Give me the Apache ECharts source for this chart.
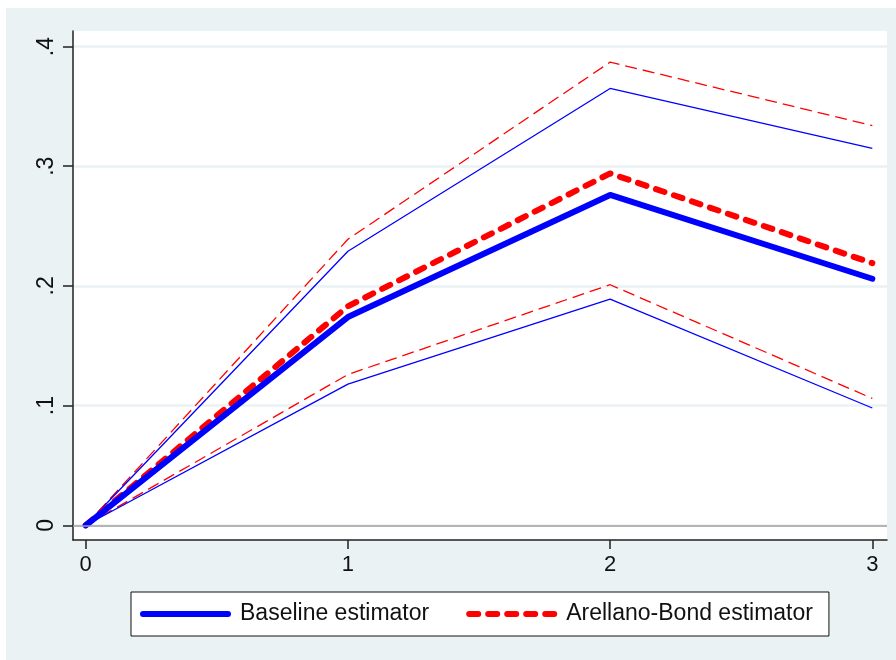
<!DOCTYPE html>
<html>
<head>
<meta charset="utf-8">
<script src="https://cdn.jsdelivr.net/npm/echarts@6/dist/echarts.min.js"></script>
<style>
  html, body { margin: 0; padding: 0; background: #fff; }
  #chart { width: 896px; height: 660px; }
</style>
</head>
<body>
<div id="chart"></div>
<script>
  // horizon (x axis)
  var horizons = [0, 1, 2, 3];
  var yTicks = [0, 0.1, 0.2, 0.3, 0.4];

  // baseline estimator with confidence band
  var baseline = [0, 0.174, 0.276, 0.206];
  var baselineUpper = [0, 0.229, 0.365, 0.315];
  var baselineLower = [0, 0.118, 0.189, 0.098];

  // Arellano-Bond estimator with confidence band
  var arellano = [0, 0.183, 0.294, 0.219];
  var arellanoUpper = [0, 0.239, 0.387, 0.334];
  var arellanoLower = [0, 0.126, 0.201, 0.106];

  function pairs(vals) {
      return horizons.map(function (h, i) { return [h, vals[i]]; });
  }

  var fontName = '"Liberation Sans", Arial, sans-serif';
  var blue = '#0000ff';
  var red = '#ff0000';

  var dom = document.getElementById('chart');
  var myChart = echarts.init(dom, null, { renderer: 'canvas' });

  var option = {
      animation: false,
      textStyle: { fontFamily: fontName },
      graphic: [
          {
              type: 'rect',
              shape: { x: 6, y: 8, width: 890, height: 652 },
              style: { fill: '#eaf2f3' },
              z: -10,
              silent: true
          }
      ],
      grid: {
          left: 73,
          right: 9,
          top: 31,
          bottom: 120,
          show: true,
          backgroundColor: '#ffffff',
          borderWidth: 0
      },
      legend: {
          left: 131,
          top: 592,
          padding: [9, 16, 9, 9],
          itemGap: 37,
          itemWidth: 85,
          itemHeight: 14,
          backgroundColor: '#ffffff',
          borderColor: '#111',
          borderWidth: 1,
          borderRadius: 0,
          itemStyle: { opacity: 0 },
          textStyle: {
              fontFamily: fontName,
              fontSize: 23,
              color: '#111',
              lineHeight: 26,
              padding: [0, 0, 0, 7]
          },
          data: [
              { name: 'Baseline estimator', itemStyle: { opacity: 0 }, lineStyle: { width: 6, cap: 'round' } },
              { name: 'Arellano-Bond estimator', itemStyle: { opacity: 0 }, lineStyle: { width: 6, cap: 'round', type: [9, 10] } }
          ]
      },
      xAxis: {
          type: 'value',
          min: -0.0485,
          max: 3.056,
          axisLine: { show: true, onZero: false, lineStyle: { color: '#222', width: 1.5 } },
          axisTick: { show: true, length: 9, customValues: horizons, lineStyle: { color: '#222', width: 1.5 } },
          axisLabel: {
              customValues: horizons,
              fontSize: 22,
              color: '#111',
              margin: 14,
              fontFamily: fontName
          },
          splitLine: { show: false }
      },
      yAxis: {
          type: 'value',
          min: -0.0123,
          max: 0.413,
          axisLine: { show: true, onZero: false, lineStyle: { color: '#222', width: 1.5 } },
          axisTick: { show: true, length: 10, customValues: yTicks, lineStyle: { color: '#222', width: 1.5 } },
          axisLabel: {
              customValues: yTicks,
              rotate: 90,
              fontSize: 23,
              color: '#111',
              margin: 15,
              fontFamily: fontName,
              formatter: function (v) {
                  if (v === 0) return '0';
                  return String(Math.round(v * 10) / 10).replace(/^0\./, '.');
              }
          },
          splitLine: { show: true, lineStyle: { color: '#eaf2f3', width: 2.5 } }
      },
      series: [
          {
              name: 'AB lower',
              type: 'line',
              data: pairs(arellanoLower),
              symbol: 'none',
              lineStyle: { color: red, width: 1.3, type: [12, 6] },
              markLine: {
                  silent: true,
                  symbol: 'none',
                  label: { show: false },
                  lineStyle: { color: '#a0a0a0', width: 1.5, type: 'solid' },
                  data: [{ yAxis: 0 }]
              }
          },
          {
              name: 'AB upper',
              type: 'line',
              data: pairs(arellanoUpper),
              symbol: 'none',
              lineStyle: { color: red, width: 1.3, type: [12, 6] }
          },
          {
              name: 'Baseline lower',
              type: 'line',
              data: pairs(baselineLower),
              symbol: 'none',
              lineStyle: { color: blue, width: 1.3 }
          },
          {
              name: 'Baseline upper',
              type: 'line',
              data: pairs(baselineUpper),
              symbol: 'none',
              lineStyle: { color: blue, width: 1.3 }
          },
          {
              name: 'Arellano-Bond estimator',
              type: 'line',
              data: pairs(arellano),
              symbol: 'none',
              color: red,
              lineStyle: { color: red, width: 6, type: [9, 10], cap: 'round', join: 'round' }
          },
          {
              name: 'Baseline estimator',
              type: 'line',
              data: pairs(baseline),
              symbol: 'none',
              color: blue,
              lineStyle: { color: blue, width: 6, cap: 'round', join: 'round' }
          }
      ]
  };
  myChart.setOption(option, true);
</script>
</body>
</html>
